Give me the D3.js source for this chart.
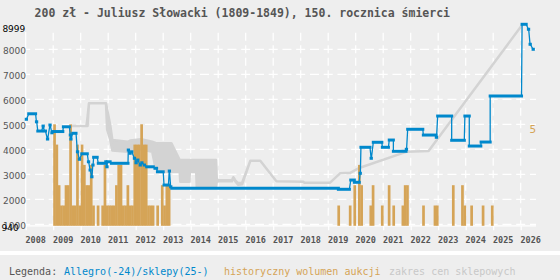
<!DOCTYPE html>
<html>
<head>
<meta charset="utf-8">
<script src="https://cdn.jsdelivr.net/npm/d3@7"></script>
<style>
  html, body { margin: 0; padding: 0; background: #eeeeee; }
  svg { display: block; }
</style>
</head>
<body>
<div id="chart"></div>
<script>
const title = '200 zł - Juliusz Słowacki (1809-1849), 150. rocznica śmierci';
const yearLabels = [2008, 2009, 2010, 2011, 2012, 2013, 2014, 2015, 2016, 2017, 2018, 2019, 2020, 2021, 2022, 2023, 2024, 2025, 2026];
const priceTicks = [1000, 2000, 3000, 4000, 5000, 6000, 7000, 8000];
const priceMin = 940;
const priceMax = 8999;
const volumeMax = 5;
const legendLabels = ['Legenda:', 'Allegro(-24)/sklepy(25-)', 'historyczny wolumen aukcji', 'zakres cen sklepowych'];

// monthly auction volume
const volumeMonths = [
  '2009-01', '2009-02', '2009-03', '2009-04', '2009-05', '2009-06', '2009-07', '2009-08', '2009-09', '2009-10',
  '2009-11', '2009-12', '2010-01', '2010-02', '2010-03', '2010-04', '2010-05', '2010-06', '2010-08', '2010-10',
  '2010-11', '2010-12', '2011-01', '2011-02', '2011-03', '2011-04', '2011-05', '2011-06', '2011-07', '2011-08',
  '2011-09', '2011-10', '2011-11', '2011-12', '2012-01', '2012-02', '2012-03', '2012-04', '2012-05', '2012-06',
  '2012-07', '2012-08', '2012-10', '2012-12', '2013-01', '2013-02', '2013-03',
  '2019-05', '2019-10', '2019-12', '2020-02', '2020-03', '2020-07', '2020-08', '2020-12', '2021-03', '2021-05',
  '2021-09', '2021-10', '2021-11', '2022-06', '2022-11', '2022-12', '2023-07', '2023-11', '2023-12', '2024-03',
  '2024-08', '2024-12',
];
const volumeCounts = [
  5, 4, 2, 1, 1, 2, 2, 5, 1, 1,
  4, 1, 4, 3, 2, 2, 3, 1, 1, 1,
  3, 1, 1, 1, 1, 2, 3, 3, 1, 1,
  2, 1, 1, 4, 4, 4, 5, 4, 4, 1,
  1, 1, 1, 2, 1, 2, 2,
  1, 1, 2, 3, 2, 1, 2, 1, 2, 1,
  1, 2, 2, 1, 1, 1, 2, 2, 1, 1,
  1, 1,
];

// Allegro prices: each observation holds a price from one date to another
const allegroFrom = [
  2008.02, 2008.11, 2008.39, 2008.44, 2008.63, 2008.68, 2008.79, 2008.88, 2008.95, 2009.00,
  2009.37, 2009.62, 2009.64, 2009.71, 2009.88, 2009.95, 2010.04, 2010.28, 2010.34, 2010.40,
  2010.44, 2010.47, 2010.64, 2010.91, 2010.95, 2010.97, 2011.12, 2011.73, 2011.79, 2011.85,
  2011.95, 2012.01, 2012.07, 2012.16, 2012.22, 2012.31, 2012.40, 2012.70, 2012.79, 2013.03,
  2013.22, 2013.27, 2013.31, 2019.37, 2019.82, 2019.95, 2020.16, 2020.19, 2020.56, 2020.64,
  2020.97, 2021.22, 2021.37, 2021.84, 2021.89, 2022.46, 2022.93, 2022.98, 2023.49, 2023.97,
  2024.13, 2024.56, 2024.89, 2026.05, 2026.28, 2026.34, 2026.45,
];
const allegroTo = [
  2008.03, 2008.36, 2008.40, 2008.58, 2008.64, 2008.72, 2008.80, 2008.89, 2008.96, 2009.35,
  2009.59, 2009.63, 2009.65, 2009.83, 2009.89, 2009.96, 2010.24, 2010.29, 2010.35, 2010.41,
  2010.45, 2010.60, 2010.88, 2010.92, 2010.96, 2011.07, 2011.72, 2011.74, 2011.80, 2011.86,
  2011.96, 2012.02, 2012.08, 2012.17, 2012.23, 2012.32, 2012.64, 2012.76, 2013.00, 2013.19,
  2013.23, 2013.28, 2019.37, 2019.77, 2019.95, 2020.13, 2020.17, 2020.52, 2020.57, 2020.95,
  2021.19, 2021.37, 2021.83, 2021.85, 2022.44, 2022.92, 2022.94, 2023.49, 2023.95, 2024.13,
  2024.55, 2024.89, 2026.03, 2026.20, 2026.29, 2026.35, 2026.46,
];
const allegroPrice = [
  5200, 5420, 5100, 4730, 4930, 4730, 4410, 4970, 4660, 4710,
  4900, 4570, 4410, 4640, 3900, 3600, 3820, 3500, 3170, 2900,
  3370, 3680, 3440, 3500, 3300, 3500, 3440, 3970, 3840, 3900,
  3640, 3460, 3570, 3370, 3460, 3370, 3300, 3240, 3100, 2570,
  3130, 2500, 2440, 2400, 2770, 2680, 3040, 4080, 3640, 4280,
  4080, 4370, 3920, 4000, 4800, 4570, 4480, 5330, 4360, 5330,
  4130, 4290, 6130, 8999, 8800, 8200, 8000,
];

// shop price range
const shopDates = [
  2009.67, 2010.21, 2010.25, 2010.30, 2010.92, 2010.96, 2011.07, 2011.15, 2011.72, 2011.80,
  2012.20, 2012.60, 2012.72, 2012.90, 2013.30, 2013.60, 2013.62, 2013.95, 2013.97, 2014.20,
  2014.22, 2014.92, 2014.95, 2015.50, 2015.55, 2015.62, 2015.72, 2015.87, 2016.17, 2016.53,
  2017.08, 2017.12, 2018.10, 2018.13, 2019.07, 2019.43, 2019.80, 2020.10, 2021.86, 2022.65,
  2026.07,
];
const shopMin = [
  4930, 4930, 4930, 5840, 5840, 4800, 4400, 3950, 3900, 3950,
  4000, 3900, 3250, 3100, 3100, 3100, 2704, 2704, 3100, 3100,
  2504, 2504, 2720, 2720, 2880, 2720, 2580, 2600, 3544, 3544,
  2772, 2720, 2700, 2664, 2664, 3040, 3060, 3240, 3904, 3932,
  8999,
];
const shopMax = [
  4930, 4930, 5300, 5840, 5840, 5600, 5000, 4370, 4300, 4350,
  4400, 4300, 4250, 4240, 4240, 3572, 3572, 3572, 3572, 3572,
  3572, 3572, 2760, 2760, 2880, 2760, 2650, 2660, 3544, 3544,
  2772, 2720, 2700, 2664, 2664, 3040, 3060, 3240, 3904, 3932,
  8999,
];

const WIDTH = 560;
const HEIGHT = 280;
const LEFT = 25.7;
const RIGHT = 537.2;
const TOP = 24.3;
const BOTTOM = 225.8;
const GRID_RIGHT = 536;
const GRID_TOP = 32;

const BLUE = '#0088cc';
const ORANGE = '#d5a457';
const GRAY = '#d3d3d3';

const monthToYear = (s) => {
  const [yy, mm] = s.split('-').map(Number);
  return yy + (mm - 1) / 12;
};

const drawChart = () => {
  const x = d3.scaleLinear().domain([2008, 2026.6]).range([LEFT, RIGHT]);
  const y = d3.scaleLinear().domain([priceMin, priceMax]).range([BOTTOM, TOP]);
  const yVolume = d3.scaleLinear().domain([0, volumeMax]).range([BOTTOM, y(5000)]);

  const svg = d3.create('svg').attr('width', WIDTH).attr('height', HEIGHT);

  svg.append('rect').attr('width', WIDTH).attr('height', HEIGHT).attr('fill', '#eeeeee');
  svg.append('rect').attr('y', 251).attr('width', WIDTH).attr('height', 4).attr('fill', '#ffffff');

  svg
    .append('text')
    .attr('x', 34.6)
    .attr('y', 17)
    .attr('fill', '#555')
    .style('font', 'bold 11.5px "DejaVu Sans Mono"')
    .text(title);

  // grid
  const grid = svg.append('g').attr('stroke', '#ffffff').attr('stroke-width', 1.2);
  grid
    .selectAll('.hgrid')
    .data(priceTicks)
    .join('line')
    .attr('x1', LEFT)
    .attr('x2', GRID_RIGHT)
    .attr('y1', (d) => y(d))
    .attr('y2', (d) => y(d))
    .attr('stroke-dasharray', '9,4.75')
    .attr('stroke-dashoffset', 4.5);
  grid
    .selectAll('.vgrid')
    .data(yearLabels.slice(1))
    .join('line')
    .attr('x1', (d) => x(d))
    .attr('x2', (d) => x(d))
    .attr('y1', y(1000))
    .attr('y2', GRID_TOP)
    .attr('stroke-dasharray', '8,4.5')
    .attr('stroke-dashoffset', 4);
  grid.append('line').attr('x1', LEFT).attr('x2', LEFT).attr('y1', GRID_TOP).attr('y2', BOTTOM);

  // x axis
  const xAxis = svg
    .append('g')
    .attr('transform', `translate(0, ${BOTTOM})`)
    .call(
      d3.axisBottom(x).tickValues(yearLabels).tickSize(4.5).tickSizeOuter(0).tickFormat(d3.format('d'))
    );
  xAxis.select('.domain').attr('stroke', '#ffffff').attr('stroke-width', 1.2).attr('d', `M${LEFT},0H${GRID_RIGHT}`);
  xAxis.selectAll('.tick line').attr('stroke', '#ffffff').attr('stroke-width', 1.2);
  xAxis
    .selectAll('.tick text')
    .attr('text-anchor', 'start')
    .attr('x', -0.8)
    .attr('y', 17.2)
    .attr('dy', null)
    .attr('fill', '#555')
    .style('font', 'bold 8.5px "DejaVu Sans Mono"');

  // y axis labels
  const yAxis = svg
    .append('g')
    .attr('transform', `translate(${LEFT + 0.3}, 0)`)
    .call(d3.axisLeft(y).tickValues(priceTicks).tickSize(0).tickPadding(0).tickFormat(d3.format('d')));
  yAxis.select('.domain').remove();
  yAxis
    .selectAll('.tick text')
    .attr('dy', '0.42em')
    .attr('fill', '#555')
    .style('font', '9px "DejaVu Sans"');

  svg
    .append('text')
    .attr('x', 2.4)
    .attr('y', 31.7)
    .attr('fill', '#000')
    .style('font', '9px "DejaVu Sans"')
    .text(priceMax);
  svg
    .append('text')
    .attr('x', 1.6)
    .attr('y', 230.5)
    .attr('fill', '#000')
    .style('font', '9px "DejaVu Sans"')
    .text(priceMin);

  // shop price range
  const shops = shopDates.map((t, i) => ({ t, min: shopMin[i], max: shopMax[i] }));
  svg
    .append('path')
    .datum(shops)
    .attr('fill', GRAY)
    .attr('stroke', GRAY)
    .attr('stroke-width', 2.5)
    .attr('stroke-linejoin', 'round')
    .attr(
      'd',
      d3
        .area()
        .x((d) => x(d.t))
        .y0((d) => y(d.min))
        .y1((d) => y(d.max))
    );

  // volume bars
  const volumes = volumeMonths.map((m, i) => ({ t: monthToYear(m), v: volumeCounts[i] }));
  svg
    .append('g')
    .selectAll('rect')
    .data(volumes)
    .join('rect')
    .attr('x', (d) => x(d.t))
    .attr('width', (d) => x(d.t + 1 / 12) - x(d.t) + 0.4)
    .attr('y', (d) => yVolume(d.v))
    .attr('height', (d) => BOTTOM - yVolume(d.v))
    .attr('fill', ORANGE);

  svg
    .append('text')
    .attr('x', 529.5)
    .attr('y', 133.2)
    .attr('fill', ORANGE)
    .style('font', '11px "DejaVu Sans Mono"')
    .text(volumeMax);

  // Allegro line: thin connectors, thick holding periods
  const allegro = allegroFrom.map((t, i) => ({ from: t, to: allegroTo[i], price: allegroPrice[i] }));
  const path = allegro.flatMap((d) => [
    [d.from, d.price],
    [d.to, d.price],
  ]);
  svg
    .append('path')
    .datum(path)
    .attr('fill', 'none')
    .attr('stroke', BLUE)
    .attr('stroke-width', 1.3)
    .attr(
      'd',
      d3
        .line()
        .x((d) => x(d[0]))
        .y((d) => y(d[1]))
    );
  svg
    .append('g')
    .selectAll('line')
    .data(allegro)
    .join('line')
    .attr('x1', (d) => x(d.from))
    .attr('x2', (d) => x(d.to))
    .attr('y1', (d) => y(d.price))
    .attr('y2', (d) => y(d.price))
    .attr('stroke', BLUE)
    .attr('stroke-width', 3)
    .attr('stroke-linecap', 'square');

  // legend
  const legendColors = ['#555', BLUE, ORANGE, '#c8c8c8'];
  const legendX = [9, 64, 224, 389];
  svg
    .append('text')
    .attr('y', 274.5)
    .style('font', '10px "DejaVu Sans Mono"')
    .selectAll('tspan')
    .data(legendLabels)
    .join('tspan')
    .attr('x', (_, i) => legendX[i])
    .attr('fill', (_, i) => legendColors[i])
    .text((d) => d);

  document.getElementById('chart').appendChild(svg.node());
};

drawChart();
</script>
</body>
</html>
